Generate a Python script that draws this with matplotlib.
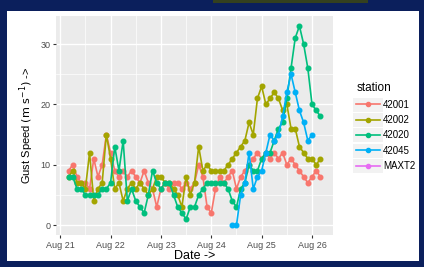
import numpy as np
import pandas as pd
import matplotlib
matplotlib.use("Agg")
import matplotlib.pyplot as plt
import matplotlib.dates as mdates
from matplotlib.patches import Rectangle

# gust speeds, every 2 h starting Aug 21 04:00 (2017)
times = pd.date_range("2017-08-21 04:00", "2017-08-26 04:00", freq="2h")

s42001 = [9, 10, 8, 7, 7, 6, 11, 8, 10, 15, 12, 9, 8, 9, 8, 9, 8, 7, 9, 7,
          6, 3, 6, 7, 6, 7, 7, 6, 7, 6, 7, 10, 8, 3, 2, 6, 8, 7, 8, 9,
          6, 8, 9, 10, 11, 12, 11, 12, 11, 12, 11, 12, 10, 11, 10, 9, 8, 7, 8, 9, 8]
s42002 = [8, 9, 7, 7, 6, 12, 4, 6, 7, 15, 11, 6, 7, 4, 6, 7, 6, 7, 6, 5,
          6, 8, 8, 7, 7, 6, 5, 3, 8, 5, 7, 13, 9, 10, 9, 9, 9, 9, 10, 11,
          12, 13, 14, 17, 15, 21, 23, 20, 21, 22, 21, 19, 20, 16, 16, 13, 12, 11, 11, 10, 11]
s42020 = [8, 8, 6, 6, 5, 5, 5, 5, 6, 6, 7, 13, 9, 14, 4, 6, 4, 3, 2, 5,
          9, 7, 6, 7, 7, 5, 3, 2, 1, 3, 3, 5, 6, 7, 7, 7, 7, 7, 6, 4,
          3, 6, 7, 10, 9, 9, 11, 12, 12, 14, 16, 17, 21, 26, 31, 33, 30, 26, 20, 19, 18]
# 42045 starts Aug 24 10:00 and stops Aug 26 00:00
s42045 = [0, 0, 5, 7, 12, 6, 8, 9, 12, 15, 14, 15, 18, 22, 25, 22, 19, 17, 14, 15]
smaxt2 = []

stations = ["42001", "42002", "42020", "42045", "MAXT2"]
colors = ["#F8766D", "#A3A500", "#00BF7D", "#00B0F6", "#E76BF3"]
series = [
    (times, s42001),
    (times, s42002),
    (times, s42020),
    (times[39:39 + len(s42045)], s42045),
    (times[:0], smaxt2),
]

plt.rcParams["font.family"] = ["Liberation Sans", "DejaVu Sans"]

fig = plt.figure(figsize=(4.24, 2.67), dpi=100)
fig.patch.set_facecolor("#0B1F5C")

W, H = 424, 267
# white slide panel
fig.add_artist(Rectangle((7 / W, 1 - 261 / H), 412 / W, 250 / H,
                         transform=fig.transFigure, facecolor="white",
                         edgecolor="none", zorder=0))
# dark photo sliver at the top
fig.add_artist(Rectangle((213 / W, 1 - 3 / H), 155 / W, 3 / H,
                         transform=fig.transFigure, facecolor="#34401F",
                         edgecolor="none", zorder=0))

ax = fig.add_axes([56 / W, 1 - 235 / H, 277 / W, 219 / H])
ax.set_facecolor("#EBEBEB")

for (t, v), st, c in zip(series, stations, colors):
    ax.plot(t, v, color=c, lw=1.2, marker="o", ms=3.3, mec=c, label=st)

t0 = pd.Timestamp("2017-08-21 04:00")
ax.set_xlim(t0 - pd.Timedelta(hours=6), pd.Timestamp("2017-08-26 04:00") + pd.Timedelta(hours=6))
ax.set_ylim(-1.65, 34.65)

ax.xaxis.set_major_locator(mdates.DayLocator())
ax.xaxis.set_minor_locator(mdates.HourLocator(byhour=[12]))
ax.xaxis.set_major_formatter(mdates.DateFormatter("%b %d"))
ax.set_yticks([0, 10, 20, 30])
ax.set_yticks([5, 15, 25], minor=True)

ax.grid(which="major", color="white", lw=1.0)
ax.grid(which="minor", color="white", lw=0.5)
ax.set_axisbelow(True)
for sp in ax.spines.values():
    sp.set_visible(False)

ax.tick_params(which="major", length=2.5, width=0.8, color="#333333",
               labelsize=6.5, labelcolor="#4D4D4D", pad=1.5)
ax.tick_params(which="minor", length=0)

ax.set_xlabel("Date ->", fontsize=9, labelpad=0)
ax.set_ylabel(r"Gust Speed $\left(\mathrm{m\ s^{-1}}\right)$ ->", fontsize=8, labelpad=3)

leg = ax.legend(title="station", loc="upper left", bbox_to_anchor=(1.07, 0.715),
                frameon=False, fontsize=7, title_fontsize=8.5,
                handlelength=2.4, handletextpad=0.35, labelspacing=0.55,
                borderaxespad=0)
leg._legend_box.align = "left"
for h in leg.legend_handles:
    h.set_markersize(3)

# grey key backgrounds like ggplot
fig.canvas.draw()
for h, txt in zip(leg.legend_handles, leg.get_texts()):
    hb = h.get_window_extent()
    tb = txt.get_window_extent()
    yc = (tb.y0 + tb.y1) / 2
    ax.add_artist(Rectangle((hb.x0 - 1, yc - 7), hb.width + 2, 14.0,
                            transform=None, facecolor="#F2F2F2",
                            edgecolor="none", clip_on=False, zorder=4.5))

fig.savefig("out.png", dpi=100, facecolor=fig.get_facecolor())
